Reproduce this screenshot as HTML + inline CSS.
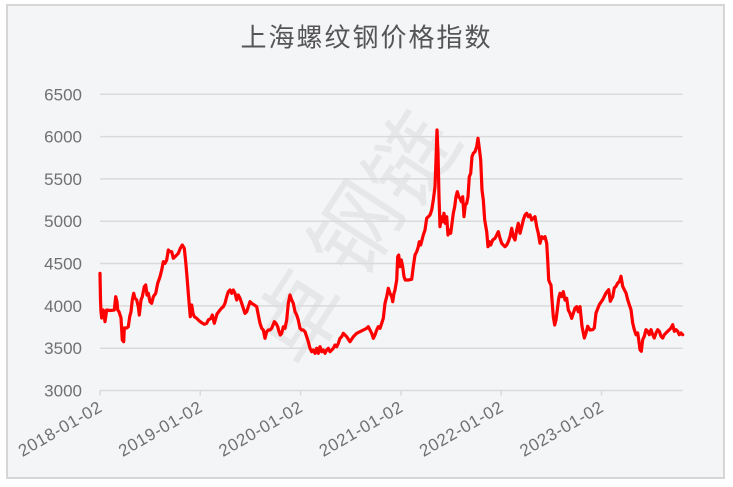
<!DOCTYPE html>
<html>
<head>
<meta charset="utf-8">
<style>
html,body{margin:0;padding:0;background:#ffffff;}
body{width:733px;height:487px;overflow:hidden;}
svg{display:block;}
</style>
</head>
<body>
<svg width="733" height="487" viewBox="0 0 733 487" xmlns="http://www.w3.org/2000/svg">
  <rect x="0" y="0" width="733" height="487" fill="#ffffff"/>
  <rect x="7" y="5" width="717" height="473" fill="#f4f5f7" stroke="#d6d6d6" stroke-width="2"/>

  <!-- watermark -->
  <g fill="#e6e7e9" font-family="'Liberation Sans','Noto Sans CJK SC',sans-serif" font-size="88" text-anchor="middle" dominant-baseline="central">
    <text x="300" y="318" transform="rotate(-57 300 318)">卓</text>
    <text x="357" y="230" transform="rotate(-57 357 230)">钢</text>
    <text x="413" y="160" transform="rotate(-57 413 160)">链</text>
  </g>

  <!-- title -->
  <text x="366.5" y="46.5" text-anchor="middle" font-family="'Liberation Sans','Noto Sans CJK SC',sans-serif" font-size="26" letter-spacing="2" fill="#555555">上海螺纹钢价格指数</text>

  <!-- grid lines -->
  <g stroke="#dadada" stroke-width="1.5">
    <line x1="100" y1="94.3" x2="682.7" y2="94.3"/>
    <line x1="100" y1="136.6" x2="682.7" y2="136.6"/>
    <line x1="100" y1="178.9" x2="682.7" y2="178.9"/>
    <line x1="100" y1="221.2" x2="682.7" y2="221.2"/>
    <line x1="100" y1="263.5" x2="682.7" y2="263.5"/>
    <line x1="100" y1="305.9" x2="682.7" y2="305.9"/>
    <line x1="100" y1="348.2" x2="682.7" y2="348.2"/>
    <line x1="100" y1="390.5" x2="682.7" y2="390.5"/>
    <line x1="100" y1="390.5" x2="100" y2="395.5"/>
    <line x1="200.3" y1="390.5" x2="200.3" y2="395.5"/>
    <line x1="300.6" y1="390.5" x2="300.6" y2="395.5"/>
    <line x1="400.9" y1="390.5" x2="400.9" y2="395.5"/>
    <line x1="501.2" y1="390.5" x2="501.2" y2="395.5"/>
    <line x1="601.5" y1="390.5" x2="601.5" y2="395.5"/>
  </g>

  <!-- y labels -->
  <g font-family="'Liberation Sans',sans-serif" font-size="17" fill="#707070" text-anchor="end">
    <text x="82" y="100.3">6500</text>
    <text x="82" y="142.6">6000</text>
    <text x="82" y="184.9">5500</text>
    <text x="82" y="227.2">5000</text>
    <text x="82" y="269.5">4500</text>
    <text x="82" y="311.9">4000</text>
    <text x="82" y="354.2">3500</text>
    <text x="82" y="396.5">3000</text>
  </g>

  <!-- x labels -->
  <g font-family="'Liberation Sans',sans-serif" font-size="17" fill="#707070" text-anchor="end">
    <text x="103" y="410.6" textLength="93" lengthAdjust="spacing" transform="rotate(-30 103 410.6)">2018-01-02</text>
    <text x="203.3" y="410.6" textLength="93" lengthAdjust="spacing" transform="rotate(-30 203.3 410.6)">2019-01-02</text>
    <text x="303.6" y="410.6" textLength="93" lengthAdjust="spacing" transform="rotate(-30 303.6 410.6)">2020-01-02</text>
    <text x="403.9" y="410.6" textLength="93" lengthAdjust="spacing" transform="rotate(-30 403.9 410.6)">2021-01-02</text>
    <text x="504.2" y="410.6" textLength="93" lengthAdjust="spacing" transform="rotate(-30 504.2 410.6)">2022-01-02</text>
    <text x="604.5" y="410.6" textLength="93" lengthAdjust="spacing" transform="rotate(-30 604.5 410.6)">2023-01-02</text>
  </g>

  <!-- series -->
  <polyline fill="none" stroke="#ff0000" stroke-width="3.2" stroke-linejoin="round" stroke-linecap="round" points="
100,273.3 100.5,300 101,312 101.7,318 103.3,310 105,321.7 106.7,310 110,310.5 114.3,310 115.7,296.7 117,301.7 117.7,310 119,311.7 121,318 122.3,340 123.7,341.7 124.3,328 126.7,328 128.3,326.7 129.7,316.7 131,311.7 132.3,300 133.7,293.3 135,298.3 136.7,300 138.3,306.7 139.3,315 141,300 142.3,296.7 144.3,286.7 145.7,285 147,295 148.3,293.3 150,301.7 151.7,303.3 153.3,296.7 155.7,293.3 157.7,283.3 160,276.7 161.7,270 163.3,261.7 165,263.3 166.7,260 168.3,250 170,251.7 171.7,251.7 173.3,258.3 175,256.7 176.7,255 178.3,253.3 180.3,248.3 182.3,245 184.3,248.3 185.7,261.7 187,276.7 188.3,293.3 189.7,310 190.3,316.7 191.7,305 193,313.3 194.3,316.7 196.7,318.3 199,320.7 201.7,322.7 204.3,324.3 206.7,323.3 208.3,320 211,318.3 212.3,315 214.3,323.3 217,314 220,310 221.7,308 223.3,306.7 225,303.3
226.7,296.7 228.3,291.7 230,290 231.7,293.3 233.3,290 235,293.3 236.7,300 238.3,295 240,298.3 241.7,303.3 243.3,308.3 245,313.3 246.7,311.7 248.3,306.7 250,301.7 251.7,303.3 254.3,305 256.7,306.7 258.3,315 260,323.3 261.7,328.3 263.3,330 265,338.3 266.7,331.7 268.3,330 270,330 271.7,328.3 274.3,321.7 276,323.3 277.7,326.7 279,331.7 280.3,335 281.7,333.3 283.3,326.7 285,328.3 286.7,320 288.3,303.3 290,295 291.7,300 293.3,303.3 295,311.7 296.7,315 298.3,320 300,328.3 301.7,330 303.3,330 305,331.7 306.7,336.7 308.3,341.7 310,348.3 311.7,351.7 313.3,350 315,353.3 316.7,348.3 318.3,353.3 320,346.7 321.7,351.7 323.3,350 325,353.3 326.7,350 328.3,348.3 330,351.7 331.7,350 333.3,348.3 335,345 336.7,346.7 338.3,343.3 340,338.3 341.7,336.7 343.3,333.3
346.7,336.7 350,341.7 353.3,336.7 356.7,333.3 360,331.7 363.3,330 366.7,328.3 368.3,326.7 370,330 371.7,333.3 373.3,338.3 375,335 376.7,330 378.3,326.7 380,328.3 381.7,323.3 383.3,318.3 385,303.3 386.7,296.7 388.3,288.3 390,293.3 391.7,296.7 392.7,301.7 394,293.3 395,290 396.7,280 397.7,256.7 398.7,255 400,266.7 401.3,260 402.7,266.7 404,276.7 405.3,280 408.3,280 411.7,279.3 413.3,266.7 415,255 416.7,251.7 418.3,246.7 419.3,241.7 420.7,245 422,240 423.3,235 425,230 426.7,218.3 428.3,216.7 430,215 431.7,210 433.3,200 435,186.7 436,160 437,130 438,153.3 439,196.7 440,226.7 441.3,216.7 442.7,221.7 444,213.3 445.3,223.3 446.7,216.7 448,235 449.3,230 450.7,233.3 452,223.3 453.3,213.3 454.7,206.7 456,196.7 457.3,191.7 458.7,196.7 460,198.3 461.3,201.7 462.7,196.7 464,216.7 465.3,205 466.7,203.3 468,196.7 469.3,176.7 470.7,173.3 472,156.7 473.3,153.3 475,151.7 476.7,146.7 478,138.3 479.3,148.3 480.7,160 482,190 483.3,200 484.7,220 486.7,231.7 488,246.7
489.3,241.7 490.7,245 492.7,240 495,238.3 496.7,235 498.3,231.7 500,238.3 501.7,243.3 503.3,245 505,246.7 506.7,245 508.3,241.7 510,236.7 511.7,228.3 513.3,236.7 515,240 516.7,230 518.3,223.3 520,233.3 521.7,226.7 523.3,220 525,215 526.7,213.3 528.3,216.7 530,215 531.7,220 533.3,218.3 535,216.7 536.7,226.7 538.3,233.3 540,243.3 541.7,236.7 543.3,238.3 545,236.7 546.7,243.3 547.7,260 548.7,280 550,283.3 551,285 552,300 553.3,316.7 554.7,325 556,320 557.3,310 558.7,298.3 560,293.3 561.7,296.7 563.3,291.7 565,300 566.7,298.3 568.3,310 570,313.3 571.7,318.3 573.3,313.3 575,308.3 576.7,306.7 578.3,311.7 580,306.7
582,326.3 584.3,338 586,333 587.7,326.3 590,330 592.7,329.7 594.3,328 596,313 599.3,304.7 602.7,299.7 606,293 608.7,289.7 610.3,301.3 612.7,296.7 614.3,288 616,286.3 617.7,283 619.3,281.7 621,276.3 622.7,286.3 624.3,289.7 626,293 627.7,299.7 629.3,304.7 631,309.7 632.7,323 634.3,329.7 636,334.7 637.7,333 638.7,339.7 640,349.7 641.3,351.3 642.7,339.7 644.3,336.3 646,329.7 647.7,331.3 649.3,334.7 651,329.7 652.7,334.7 654.3,338 656,333 657.7,329.7 659.3,331.3 661,336.3 662.7,338 664.3,334.7 666,333 667.7,331.3 669.3,329.7 671,328 672.7,324.7 674.3,331.3 676,329.7 677.7,331.3 679.3,334.7 681,333 682.7,334.7"/>
</svg>
</body>
</html>
